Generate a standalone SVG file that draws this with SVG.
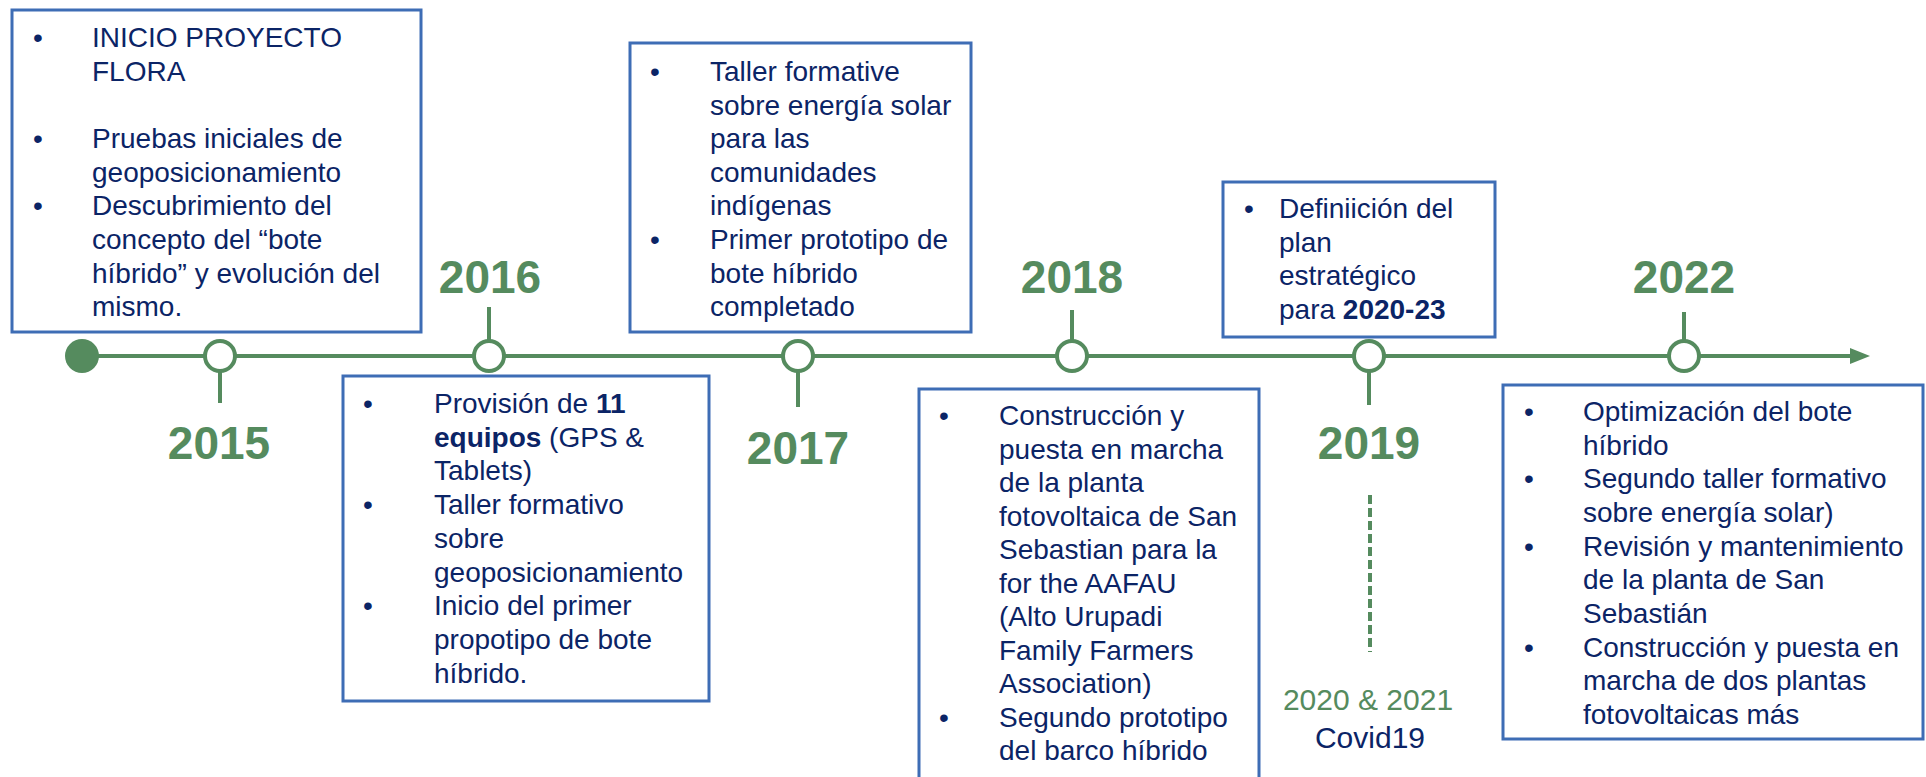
<svg xmlns="http://www.w3.org/2000/svg" width="1926" height="777" viewBox="0 0 1926 777">
<style>
.box{fill:#fff;stroke:#3E6DB5;stroke-width:3}
.t{font-family:"Liberation Sans",Arial,sans-serif;font-size:28px;fill:#0B2466}
.b{font-weight:bold}
.yr{font-family:"Liberation Sans",Arial,sans-serif;font-size:46px;font-weight:bold;fill:#558B5E;text-anchor:middle}
.ln{stroke:#558B5E;stroke-width:4;fill:none}
.dot{fill:#fff;stroke:#558B5E;stroke-width:4}
</style>
<rect width="1926" height="777" fill="#fff"/>
<g id="connectors">
<line class="ln" x1="82" y1="356" x2="1856" y2="356"/>
<polygon points="1850,348 1870,356 1850,364" fill="#558B5E"/>
<line class="ln" x1="220" y1="370" x2="220" y2="403"/>
<line class="ln" x1="489" y1="307" x2="489" y2="341"/>
<line class="ln" x1="798" y1="372" x2="798" y2="407"/>
<line class="ln" x1="1072" y1="310" x2="1072" y2="341"/>
<line class="ln" x1="1369" y1="370" x2="1369" y2="405"/>
<line class="ln" x1="1684" y1="312" x2="1684" y2="343"/>
<line class="ln" x1="1370" y1="495" x2="1370" y2="652" stroke-dasharray="9,4"/>
</g>
<g id="dots">
<circle cx="82" cy="356" r="17" fill="#558B5E"/>
<circle class="dot" cx="220" cy="356" r="15"/>
<circle class="dot" cx="489" cy="356" r="15"/>
<circle class="dot" cx="798" cy="356" r="15"/>
<circle class="dot" cx="1072" cy="356" r="15"/>
<circle class="dot" cx="1369" cy="356" r="15"/>
<circle class="dot" cx="1684" cy="356" r="15"/>
</g>
<g id="years">
<text class="yr" x="219" y="459">2015</text>
<text class="yr" x="490" y="293">2016</text>
<text class="yr" x="798" y="464">2017</text>
<text class="yr" x="1072" y="293">2018</text>
<text class="yr" x="1369" y="459">2019</text>
<text class="yr" x="1684" y="293">2022</text>
</g>
<g id="covid">
<text x="1368" y="710" font-family="Liberation Sans, Arial, sans-serif" font-size="30" fill="#558B5E" text-anchor="middle">2020 &amp; 2021</text>
<text x="1370" y="748" font-family="Liberation Sans, Arial, sans-serif" font-size="30" fill="#0B2466" text-anchor="middle">Covid19</text>
</g>
<g id="box2015">
<rect class="box" x="12" y="10" width="409" height="322"/>
<text class="t"><tspan x="33" y="47">•</tspan><tspan x="92" y="47">INICIO PROYECTO</tspan><tspan x="92" y="81">FLORA</tspan><tspan x="33" y="148">•</tspan><tspan x="92" y="148">Pruebas iniciales de</tspan><tspan x="92" y="182">geoposicionamiento</tspan><tspan x="33" y="215">•</tspan><tspan x="92" y="215">Descubrimiento del</tspan><tspan x="92" y="249">concepto del “bote</tspan><tspan x="92" y="283">híbrido” y evolución del</tspan><tspan x="92" y="316">mismo.</tspan></text>
</g>
<g id="box2016">
<rect class="box" x="343" y="376" width="366" height="325"/>
<text class="t"><tspan x="363" y="413">•</tspan><tspan x="434" y="413">Provisión de <tspan class="b">11</tspan></tspan><tspan x="434" y="447"><tspan class="b">equipos</tspan> (GPS &amp;</tspan><tspan x="434" y="480">Tablets)</tspan><tspan x="363" y="514">•</tspan><tspan x="434" y="514">Taller formativo</tspan><tspan x="434" y="548">sobre</tspan><tspan x="434" y="582">geoposicionamiento</tspan><tspan x="363" y="615">•</tspan><tspan x="434" y="615">Inicio del primer</tspan><tspan x="434" y="649">propotipo de bote</tspan><tspan x="434" y="683">híbrido.</tspan></text>
</g>
<g id="box2017">
<rect class="box" x="630" y="43" width="341" height="289"/>
<text class="t"><tspan x="650" y="81">•</tspan><tspan x="710" y="81">Taller formative</tspan><tspan x="710" y="115">sobre energía solar</tspan><tspan x="710" y="148">para las</tspan><tspan x="710" y="182">comunidades</tspan><tspan x="710" y="215">indígenas</tspan><tspan x="650" y="249">•</tspan><tspan x="710" y="249">Primer prototipo de</tspan><tspan x="710" y="283">bote híbrido</tspan><tspan x="710" y="316">completado</tspan></text>
</g>
<g id="box2018">
<path class="box" d="M919,779 V389 H1259 V779"/>
<text class="t"><tspan x="939" y="425">•</tspan><tspan x="999" y="425">Construcción y</tspan><tspan x="999" y="459">puesta en marcha</tspan><tspan x="999" y="492">de la planta</tspan><tspan x="999" y="526">fotovoltaica de San</tspan><tspan x="999" y="559">Sebastian para la</tspan><tspan x="999" y="593">for the AAFAU</tspan><tspan x="999" y="626">(Alto Urupadi</tspan><tspan x="999" y="660">Family Farmers</tspan><tspan x="999" y="693">Association)</tspan><tspan x="939" y="727">•</tspan><tspan x="999" y="727">Segundo prototipo</tspan><tspan x="999" y="760">del barco híbrido</tspan></text>
</g>
<g id="box2019">
<rect class="box" x="1223" y="182" width="272" height="155"/>
<text class="t"><tspan x="1244" y="218">•</tspan><tspan x="1279" y="218">Definiición del</tspan><tspan x="1279" y="252">plan</tspan><tspan x="1279" y="285">estratégico</tspan><tspan x="1279" y="319">para <tspan class="b">2020-23</tspan></tspan></text>
</g>
<g id="box2022">
<rect class="box" x="1503" y="385" width="420" height="354"/>
<text class="t"><tspan x="1524" y="421">•</tspan><tspan x="1583" y="421">Optimización del bote</tspan><tspan x="1583" y="455">híbrido</tspan><tspan x="1524" y="488">•</tspan><tspan x="1583" y="488">Segundo taller formativo</tspan><tspan x="1583" y="522">sobre energía solar)</tspan><tspan x="1524" y="556">•</tspan><tspan x="1583" y="556">Revisión y mantenimiento</tspan><tspan x="1583" y="589">de la planta de San</tspan><tspan x="1583" y="623">Sebastián</tspan><tspan x="1524" y="657">•</tspan><tspan x="1583" y="657">Construcción y puesta en</tspan><tspan x="1583" y="690">marcha de dos plantas</tspan><tspan x="1583" y="724">fotovoltaicas más</tspan></text>
</g>
</svg>
